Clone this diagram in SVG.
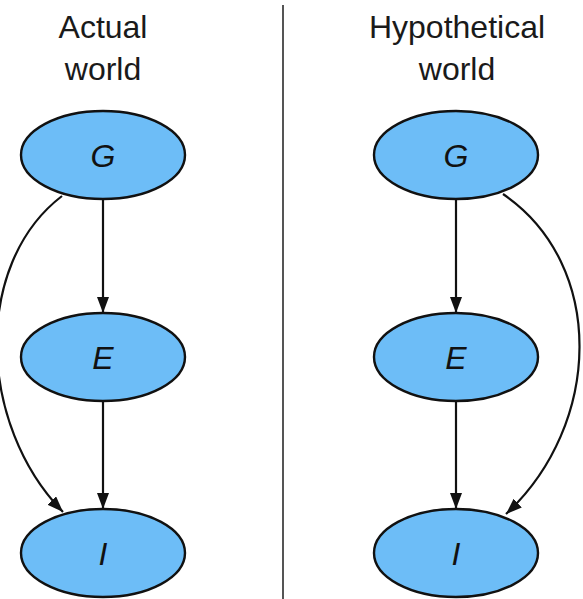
<svg xmlns="http://www.w3.org/2000/svg" width="583" height="599" viewBox="0 0 583 599">
<style>
.t{font-family:"Liberation Sans",Arial,sans-serif;font-size:32px;fill:#1a1a1a;text-anchor:middle}
.n{fill:#6dbdf7;stroke:#111;stroke-width:2.4}
.l{font-family:"Liberation Sans",Arial,sans-serif;font-size:32px;font-style:italic;fill:#111;text-anchor:middle}
.e{fill:none;stroke:#111;stroke-width:2.2}
</style>
<defs>
<marker id="b" viewBox="0 0 16 12" refX="16" refY="6" markerWidth="16" markerHeight="12" markerUnits="userSpaceOnUse" orient="auto">
<path d="M0,0 L16,6 L0,12 z" fill="#111"/>
</marker>
</defs>
<rect width="583" height="599" fill="#fff"/>
<line x1="283" y1="5" x2="283" y2="599" stroke="#555" stroke-width="2"/>
<g id="titles">
<text class="t" x="103" y="38">Actual</text>
<text class="t" x="103" y="80">world</text>
<text class="t" x="457" y="38">Hypothetical</text>
<text class="t" x="457" y="80">world</text>
</g>
<g id="connectors">
<path class="e" d="M103,199 L103,313" marker-end="url(#b)"/>
<path class="e" d="M103,401 L103,509" marker-end="url(#b)"/>
<path class="e" d="M62,196 C-28,265 -22,425 63,512" marker-end="url(#b)"/>
<path class="e" d="M456,199 L456,313" marker-end="url(#b)"/>
<path class="e" d="M456,401 L456,509" marker-end="url(#b)"/>
<path class="e" d="M503,194 C607,265 602,425 506,514" marker-end="url(#b)"/>
</g>
<g id="G1"><ellipse class="n" cx="103" cy="155" rx="82" ry="44"/><text class="l" x="103" y="167">G</text></g>
<g id="E1"><ellipse class="n" cx="103" cy="357" rx="82" ry="44"/><text class="l" x="103" y="369">E</text></g>
<g id="I1"><ellipse class="n" cx="103" cy="553" rx="82" ry="44"/><text class="l" x="103" y="565">I</text></g>
<g id="G2"><ellipse class="n" cx="456" cy="155" rx="82" ry="44"/><text class="l" x="456" y="167">G</text></g>
<g id="E2"><ellipse class="n" cx="456" cy="357" rx="82" ry="44"/><text class="l" x="456" y="369">E</text></g>
<g id="I2"><ellipse class="n" cx="456" cy="553" rx="82" ry="44"/><text class="l" x="456" y="565">I</text></g>
</svg>
